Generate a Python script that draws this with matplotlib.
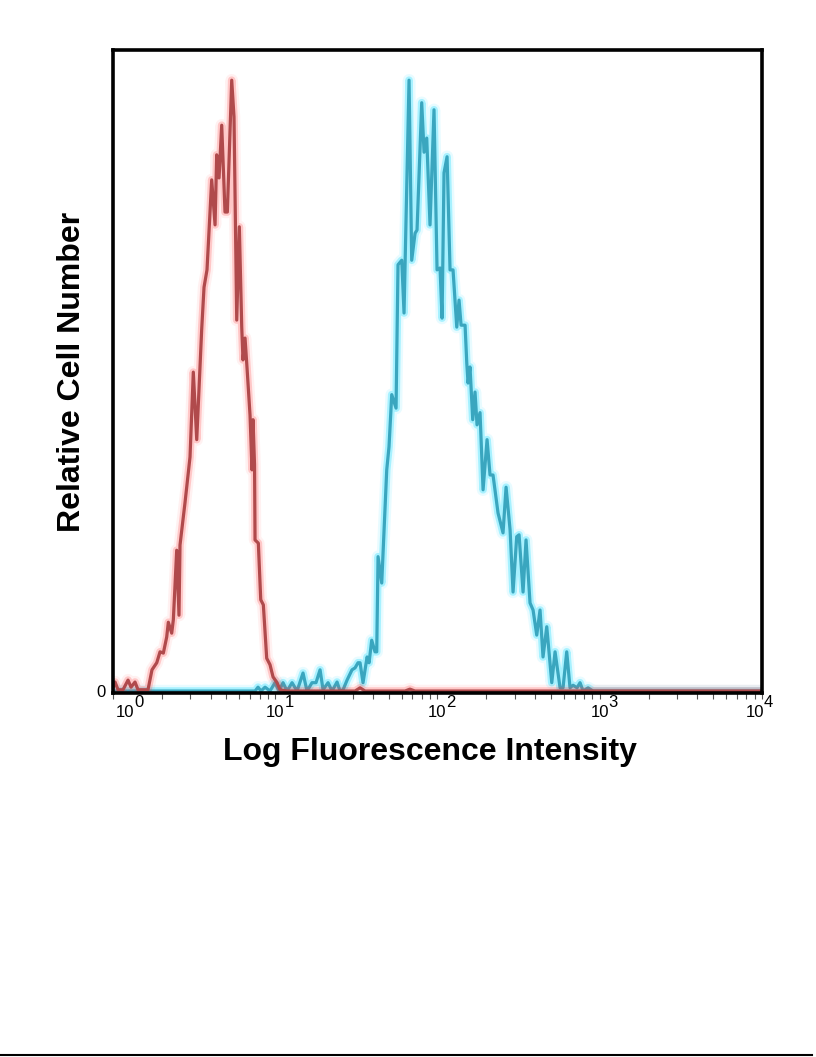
import numpy as np
import matplotlib.pyplot as plt
import matplotlib.patheffects as pe
from matplotlib.lines import Line2D

plt.rcParams['font.family'] = ['Liberation Sans', 'DejaVu Sans']

# histogram data, 1024 channels over 4 decades
red_channel = [0, 3.2, 7.9, 15.8, 23.7, 28.4, 34.7, 39.4, 47.3, 55.2, 61.5, 69.0, 74.2, 79.4,
               84.7, 87.3, 92.6, 95.2, 100.5, 104.1, 105.7, 113.6, 121.5, 126.7, 132.1, 139.9,
               143.6, 148.3, 155.7, 161.0, 163.6, 167.3, 171.5, 176.7, 180.4, 187.3, 190.9,
               195.2, 199.3, 203.1, 205.1, 208.3, 211.5, 216.2, 219.3, 220.9, 223.3, 224.1,
               229.3, 233.1, 237.2, 242.5, 247.7, 252.5, 258.8, 263.5, 274.6, 295.1, 342.4,
               381.9, 389.8, 397.7, 460.8, 468.5, 476.4, 1024]
red_count = [0.8, 1.7, 0.5, 0.5, 2.0, 0.9, 1.7, 0.5, 0.5, 0.5, 3.6, 4.7, 6.4, 6.2,
             8.7, 11.0, 9.3, 11.4, 22.2, 12.1, 23.0, 29.6, 36.7, 49.9, 39.4, 56.5,
             63.1, 65.8, 79.8, 72.8, 83.7, 80.1, 88.3, 74.8, 74.8, 95.3, 89.6,
             58.0, 72.5, 56.9, 51.8, 55.2, 50.5, 43.2, 34.7, 42.5, 35.5, 23.8,
             23.3, 14.5, 13.7, 5.4, 4.4, 2.5, 1.6, 0.5, 0.3, 0.3, 0.3,
             0.3, 0.8, 0.3, 0.3, 0.6, 0.3, 0.3]

cyan_channel = [0, 216.2, 224.1, 228.8, 233.5, 239.9, 247.7, 255.6, 261.9, 268.3, 274.6, 282.5,
                290.4, 299.8, 306.1, 314.0, 320.3, 326.7, 331.4, 339.3, 345.6, 353.5, 358.2,
                363.0, 369.3, 377.1, 381.9, 386.6, 389.8, 394.5, 400.9, 404.0, 408.2, 413.4,
                416.1, 418.2, 424.0, 431.9, 435.5, 439.8, 446.6, 449.7, 455.6, 459.2, 467.1,
                471.3, 476.6, 479.7, 487.1, 490.8, 495.0, 500.2, 506.5, 511.3, 516.0, 519.2,
                522.3, 527.1, 531.8, 536.5, 542.4, 546.0, 549.2, 555.5, 558.2, 560.2, 563.3,
                567.6, 571.2, 574.4, 579.1, 583.9, 590.2, 594.9, 599.6, 607.5, 615.4, 620.2,
                626.5, 631.2, 637.0, 640.7, 647.0, 651.7, 658.0, 662.8, 668.6, 673.8, 678.5,
                684.4, 692.3, 697.5, 705.4, 710.1, 715.9, 721.1, 725.9, 732.2, 736.9, 741.7,
                749.6, 757.4, 1024]
cyan_count = [0.3, 0.3, 0.3, 0.9, 0.3, 0.9, 0.3, 1.6, 0.3, 1.6, 0.3, 1.6,
              0.3, 3.1, 0.3, 1.6, 1.6, 3.6, 0.5, 1.6, 0.3, 1.7, 0.3,
              0.5, 2.0, 3.6, 3.9, 4.7, 4.7, 1.6, 5.6, 4.7, 8.2, 6.4,
              6.4, 21.2, 17.1, 34.7, 38.3, 46.4, 44.3, 66.6, 67.3, 59.1, 95.3,
              67.3, 71.5, 72.0, 91.8, 84.1, 86.3, 72.8, 90.7, 65.8, 66.1, 58.3,
              80.9, 83.4, 65.8, 65.8, 56.9, 61.1, 57.2, 57.2, 51.3, 48.2, 50.7,
              42.5, 46.8, 41.7, 43.6, 31.6, 39.4, 33.9, 33.9, 28.0, 24.9, 32.0,
              25.4, 15.7, 24.3, 24.6, 15.7, 23.8, 14.0, 12.9, 9.0, 12.9, 5.6,
              10.3, 1.6, 6.4, 0.8, 0.8, 6.4, 0.8, 1.2, 0.8, 1.6, 0.3,
              0.8, 0.3, 0.3]

decades = [0, 1, 2, 3, 4]

red_x = 10 ** (np.array(red_channel) / 256)
cyan_x = 10 ** (np.array(cyan_channel) / 256)

fig = plt.figure(figsize=(8.16, 10.57), dpi=100)
ax = fig.add_axes([0.1385, 0.3444, 0.7953, 0.6083])

glow = lambda c, a: [pe.Stroke(linewidth=9, foreground=c, alpha=a * 0.3),
                     pe.Stroke(linewidth=5.5, foreground=c, alpha=a),
                     pe.Normal()]

ax.plot(cyan_x, cyan_count, color='#3aa6bf', lw=2.3, solid_joinstyle='round',
        path_effects=glow('#2ee0ff', 0.35))
ax.plot(red_x, red_count, color='#b04a4c', lw=2.3, solid_joinstyle='round',
        path_effects=glow('#ff3535', 0.22))

ax.set_xscale('log')
ax.set_xlim(1, 1e4)
ax.set_ylim(0, 100)
for s in ax.spines.values():
    s.set_linewidth(2.6)
ax.set_yticks([])
ax.tick_params(axis='x', which='both', direction='out', length=4, width=0.8,
               color='#555555', labelbottom=False)

# decade labels drawn as "10" plus a raised exponent
shift = {0: 12, 4: -7}
for d in decades:
    dx = shift.get(d, 0) * 0.72
    ax.annotate('10', xy=(10 ** d, 0), xycoords=('data', 'axes fraction'),
                xytext=(dx, -8.5), textcoords='offset points',
                ha='center', va='top', fontsize=12)
    ax.annotate(str(d), xy=(10 ** d, 0), xycoords=('data', 'axes fraction'),
                xytext=(dx + 6.5, -1.5), textcoords='offset points',
                ha='left', va='top', fontsize=12)
ax.annotate('0', xy=(0, 0), xycoords='axes fraction', xytext=(-5, 0),
            textcoords='offset points', ha='right', va='center', fontsize=12)

fig.text(0.088, 0.648, 'Relative Cell Number', rotation=90, ha='center', va='center',
         fontsize=23, fontweight='bold')
fig.text(0.527, 0.2885, 'Log Fluorescence Intensity', ha='center', va='center',
         fontsize=23, fontweight='bold')

fig.add_artist(Line2D([0, 812 / 816], [2 / 1057, 2 / 1057], color='black', lw=1.5))

fig.savefig('out.png', dpi=100)
